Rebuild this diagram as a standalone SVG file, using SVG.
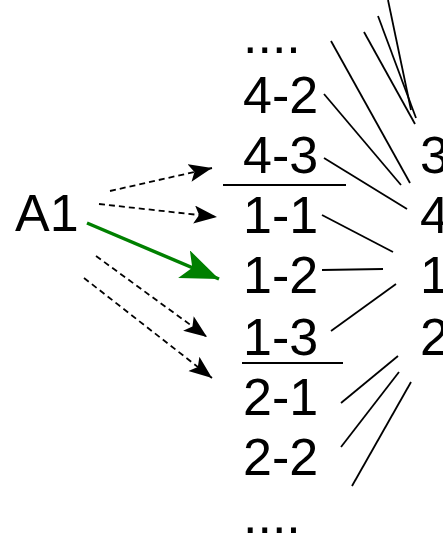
<svg xmlns="http://www.w3.org/2000/svg" width="443" height="539" viewBox="0 0 443 539">
<style>
text{font-family:"Liberation Sans",Arial,sans-serif;font-size:52px;fill:#000}
.ln{stroke:#000;stroke-width:1.8;fill:none}
.sep{stroke:#000;stroke-width:2;fill:none}
.dash{stroke:#000;stroke-width:1.8;stroke-dasharray:6 4;fill:none;marker-end:url(#ah)}
.grn{stroke:#008000;stroke-width:3.5;fill:none;marker-end:url(#ahg)}
</style>
<defs>
<marker id="ah" markerUnits="userSpaceOnUse" markerWidth="24" markerHeight="20" refX="23" refY="9" orient="auto" viewBox="0 0 24 20">
<path d="M0 0 L23 9 L0 18 L5 9 Z" fill="#000"/>
</marker>
<marker id="ahg" markerUnits="userSpaceOnUse" markerWidth="40" markerHeight="32" refX="38" refY="15" orient="auto" viewBox="0 0 40 32">
<path d="M0 0 L38 15 L0 30 L9 15 Z" fill="#008000"/>
</marker>
</defs>
<g id="node-A1"><text x="15" y="231">A1</text></g>
<g id="node-dots-top"><text x="243" y="53">....</text></g>
<g id="node-4-2"><text x="243" y="113">4-2</text></g>
<g id="node-4-3"><text x="243" y="173">4-3</text></g>
<g id="node-1-1"><text x="243" y="233">1-1</text></g>
<g id="node-1-2"><text x="243" y="293">1-2</text></g>
<g id="node-1-3"><text x="243" y="355">1-3</text></g>
<g id="node-2-1"><text x="243" y="415">2-1</text></g>
<g id="node-2-2"><text x="243" y="475">2-2</text></g>
<g id="node-dots-bottom"><text x="243" y="533">....</text></g>
<g id="node-3"><text x="420" y="173">3</text></g>
<g id="node-4"><text x="420" y="233">4</text></g>
<g id="node-1"><text x="420" y="293">1</text></g>
<g id="node-2"><text x="420" y="355">2</text></g>
<g id="separators">
<line class="sep" x1="223" y1="185" x2="346" y2="185"/>
<line class="sep" x1="242" y1="363" x2="343" y2="363"/>
</g>
<g id="connectors">
<line class="dash" x1="110" y1="191" x2="212" y2="168"/>
<line class="dash" x1="99" y1="204" x2="217" y2="217"/>
<line class="grn" x1="87" y1="223" x2="219" y2="279"/>
<line class="dash" x1="96" y1="256" x2="207" y2="337"/>
<line class="dash" x1="84" y1="278" x2="212" y2="378"/>
<line class="ln" x1="388" y1="0" x2="411" y2="110"/>
<line class="ln" x1="378" y1="16" x2="416" y2="118"/>
<line class="ln" x1="364" y1="32" x2="415" y2="124"/>
<line class="ln" x1="331" y1="41" x2="410" y2="183"/>
<line class="ln" x1="324" y1="94" x2="401" y2="185"/>
<line class="ln" x1="324" y1="158" x2="407" y2="209"/>
<line class="ln" x1="322" y1="215" x2="393" y2="252"/>
<line class="ln" x1="322" y1="270" x2="383" y2="269"/>
<line class="ln" x1="331" y1="331" x2="396" y2="284"/>
<line class="ln" x1="341" y1="403" x2="398" y2="356"/>
<line class="ln" x1="341" y1="447" x2="399" y2="372"/>
<line class="ln" x1="352" y1="486" x2="411" y2="382"/>
</g>
</svg>
